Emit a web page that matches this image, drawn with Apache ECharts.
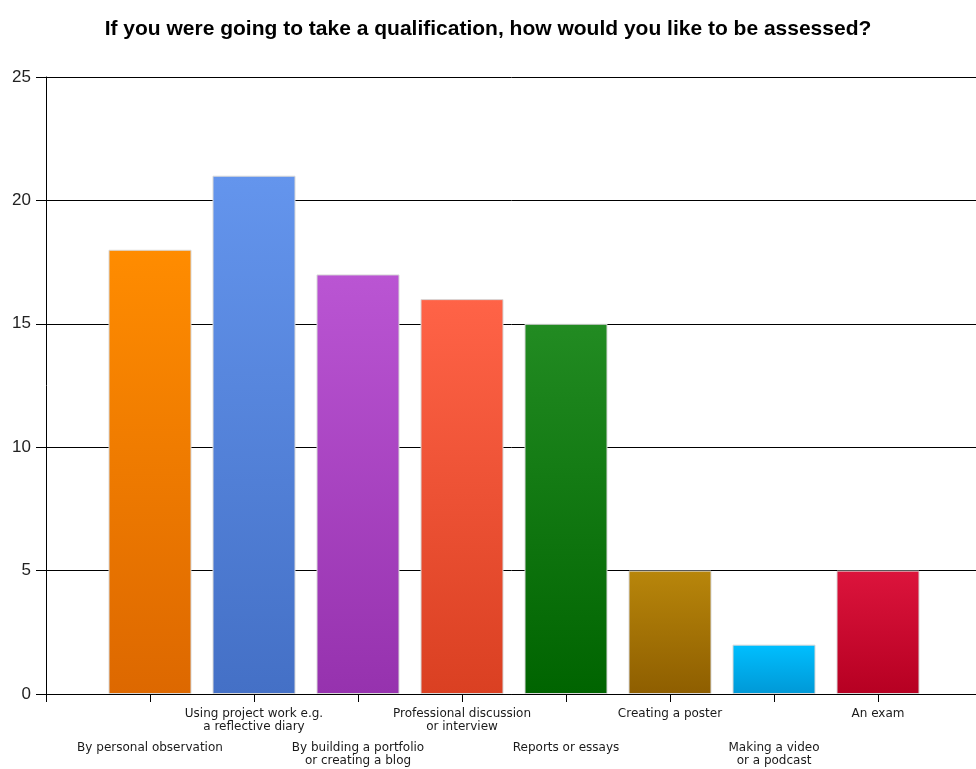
<!DOCTYPE html>
<html>
<head>
<meta charset="utf-8">
<script src="https://cdn.jsdelivr.net/npm/echarts@6/dist/echarts.min.js"></script>
<style>html,body{margin:0;padding:0;background:#fff}#c{width:976px;height:769px}</style>
</head>
<body>
<div id="c"></div>
<script>
const titleText = "If you were going to take a qualification, how would you like to be assessed?";
const categories = ["", "By personal observation", "Using project work e.g.\na reflective diary", "By building a portfolio\nor creating a blog", "Professional discussion\nor interview", "Reports or essays", "Creating a poster", "Making a video\nor a podcast", "An exam", ""];
const values = ["-", 18, 21, 17, 16, 15, 5, 2, 5, "-"];
const topColors = [null, "#FF8C00", "#6495ED", "#BA55D3", "#FF6347", "#228B22", "#B8860B", "#00BFFF", "#DC143C"];
const bottomColors = [null, "#DD6800", "#4470C6", "#9632AE", "#DA4022", "#006400", "#8E5E00", "#0098D6", "#B60022"];
const yTicks = [0, 5, 10, 15, 20, 25];

const chart = echarts.init(document.getElementById('c'));
const labelStyle = {fontFamily: "DejaVu Sans", fontSize: 12, color: "#1a1a1a", lineHeight: 13, margin: 13};
chart.setOption({
  animation: false,
  title: {text: titleText, left: 'center', top: 14, textStyle: {fontFamily: "Liberation Sans", fontWeight: 'bold', fontSize: 21, color: '#000'}},
  grid: {left: 46, width: 936, top: 77, bottom: 75, containLabel: false, outerBoundsMode: 'none'},
  xAxis: [{
    type: 'category', data: categories, boundaryGap: false,
    axisLine: {lineStyle: {color: '#000', width: 1}},
    axisTick: {interval: 0, length: 8, lineStyle: {color: '#000'}},
    axisLabel: Object.assign({interval: (i) => i > 0 && i % 2 === 0}, labelStyle),
    splitLine: {show: false}
  }, {
    type: 'category', data: categories, boundaryGap: false, position: 'bottom', offset: 34,
    axisLine: {show: false}, axisTick: {show: false},
    axisLabel: Object.assign({interval: (i) => i % 2 === 1}, labelStyle),
    splitLine: {show: false}
  }],
  yAxis: {
    type: 'value', min: yTicks[0], max: yTicks[yTicks.length - 1], interval: 5,
    axisLine: {show: true, lineStyle: {color: '#000'}},
    axisTick: {show: true, length: 10, lineStyle: {color: '#000'}},
    axisLabel: {fontFamily: "Liberation Sans", fontSize: 17, color: '#222', margin: 15},
    splitLine: {lineStyle: {color: '#000', width: 1}}
  },
  series: [{
    type: 'bar', xAxisIndex: 0, barWidth: 83,
    data: values.map((v, i) => v === "-" ? "-" : {
      value: v,
      itemStyle: {
        color: new echarts.graphic.LinearGradient(0, 0, 0, 1, [{offset: 0, color: topColors[i]}, {offset: 1, color: bottomColors[i]}]),
        borderColor: '#d8d8d8', borderWidth: 1
      }
    })
  }]
});
</script>
</body>
</html>
